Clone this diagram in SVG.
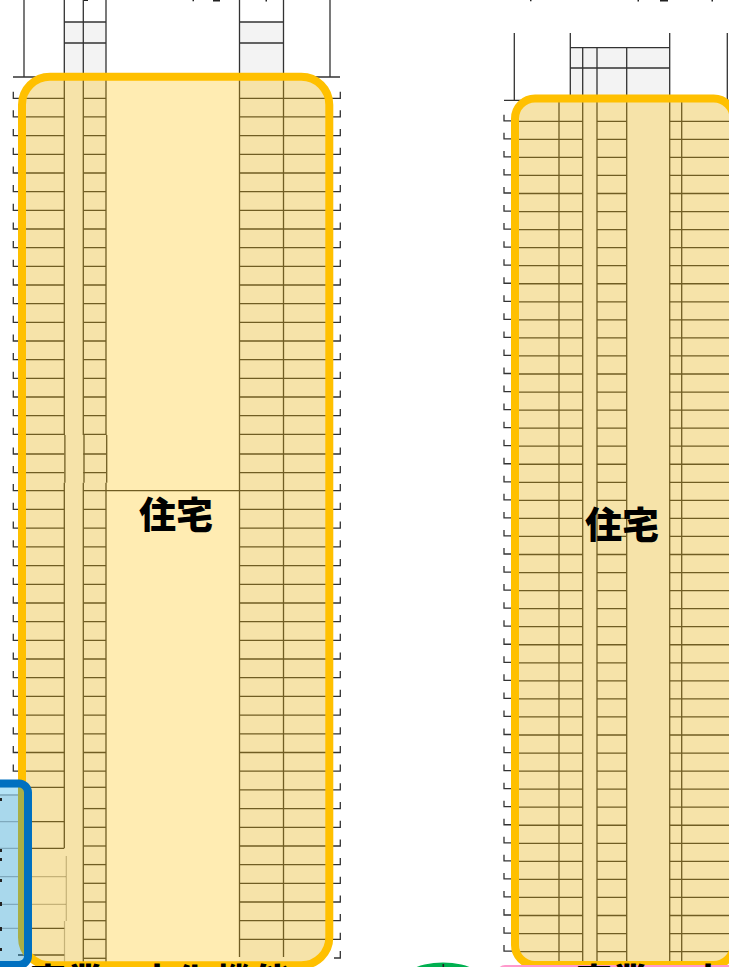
<svg xmlns="http://www.w3.org/2000/svg" xmlns:xlink="http://www.w3.org/1999/xlink" width="729" height="967" viewBox="0 0 729 967">
<style>
.ln{fill:none;stroke:#333;stroke-width:1.3}
.fa{fill:none;stroke:#444;stroke-width:1.2;opacity:.4}
.gr{fill:#f3f3f3}
.yb{fill:#ffc000;fill-opacity:.3;stroke:#ffc000;stroke-width:8}
.lb{font-family:"Noto Sans CJK JP","Noto Sans CJK SC",sans-serif;font-weight:900;font-size:37px;fill:#000}
.lc{font-family:"Noto Sans CJK JP","Noto Sans CJK SC",sans-serif;font-weight:900;font-size:36px;fill:#000}
.mk{fill:#222}
</style>
<defs>
<filter id="soft" filterUnits="userSpaceOnUse" x="-20" y="-20" width="769" height="1007" color-interpolation-filters="sRGB"><feGaussianBlur stdDeviation=".45"/></filter>
<clipPath id="cl"><rect x="22" y="76.7" width="307.3" height="888.6" rx="28"/></clipPath>
<clipPath id="cr"><rect x="515" y="98.5" width="218.7" height="866.5" rx="20"/></clipPath>
<path id="lrow" class="ln" d="M18 0H64.3M83.3 0H106M239.5 0H334M13.3-6.6V0H18M340.3-6.6V0H334"/>
<path id="lright" class="ln" d="M239.5 0H334M340.3-6.6V0H334"/>
<path id="lmid" class="ln" d="M83.3 0H106"/>
<path id="lleft" class="ln" d="M18 0H64.3"/>
<path id="rrow" class="ln" d="M512 0H582.7M597 0H626.7M669.7 0H729M504-6.5V-.5H512"/>
</defs>
<rect width="729" height="967" fill="#fff"/>
<g id="tower-left" filter="url(#soft)">
<rect class="gr" x="64.3" y="22" width="41.7" height="55"/>
<rect class="gr" x="239.5" y="22" width="44" height="55"/>
<g clip-path="url(#cl)"><rect class="gr" x="18" y="72" width="88" height="895"/><rect class="gr" x="239.5" y="72" width="94" height="895"/></g>
<path class="ln" d="M24 0V77M330 0V77M64.3 0V435M64.3 482.7V848M83.3 0V435M83.3 482.7V962M106 0V435M106 482.7V962M239.5 0V957M283.5 0V957M13 77H340M64.3 22H106M64.3 43H106M239.5 22H283.5M239.5 43H283.5M106 490.7H239.5"/>
<path class="ln" d="M64.9 435V482.7M84 435V482.7M106.7 435V482.7"/>
<path class="fa" d="M66.3 856V921M64.5 921V962"/>
<use xlink:href="#lrow" y="98.3"/><use xlink:href="#lrow" y="116.97"/><use xlink:href="#lrow" y="135.64"/><use xlink:href="#lrow" y="154.31"/><use xlink:href="#lrow" y="172.98"/><use xlink:href="#lrow" y="191.65"/><use xlink:href="#lrow" y="210.32"/><use xlink:href="#lrow" y="228.99"/><use xlink:href="#lrow" y="247.66"/><use xlink:href="#lrow" y="266.33"/><use xlink:href="#lrow" y="285"/><use xlink:href="#lrow" y="303.67"/><use xlink:href="#lrow" y="322.34"/><use xlink:href="#lrow" y="341"/><use xlink:href="#lrow" y="359.7"/><use xlink:href="#lrow" y="378.4"/><use xlink:href="#lrow" y="397"/><use xlink:href="#lrow" y="415.7"/><use xlink:href="#lrow" y="434.4"/><use xlink:href="#lrow" y="454"/><use xlink:href="#lrow" y="472.7"/><use xlink:href="#lrow" y="490.7"/><use xlink:href="#lrow" y="509.3"/><use xlink:href="#lrow" y="528.2"/><use xlink:href="#lrow" y="546.9"/><use xlink:href="#lrow" y="565.6"/><use xlink:href="#lrow" y="584.3"/><use xlink:href="#lrow" y="603"/><use xlink:href="#lrow" y="621.7"/><use xlink:href="#lrow" y="640.3"/><use xlink:href="#lrow" y="659"/><use xlink:href="#lrow" y="677.7"/><use xlink:href="#lrow" y="696.4"/><use xlink:href="#lrow" y="715.1"/><use xlink:href="#lrow" y="733.8"/><use xlink:href="#lrow" y="752.5"/><use xlink:href="#lrow" y="771.2"/>
<use xlink:href="#lright" y="789.9"/><use xlink:href="#lright" y="808.6"/><use xlink:href="#lright" y="827.3"/><use xlink:href="#lright" y="846"/><use xlink:href="#lright" y="864.6"/><use xlink:href="#lright" y="883.3"/><use xlink:href="#lright" y="902"/><use xlink:href="#lright" y="920.7"/><use xlink:href="#lright" y="939.4"/><path class="ln" d="M340.3 951V958H334"/>
<use xlink:href="#lmid" y="787.3"/><use xlink:href="#lmid" y="808.6"/><use xlink:href="#lmid" y="827.3"/><use xlink:href="#lmid" y="846"/><use xlink:href="#lmid" y="864.6"/><use xlink:href="#lmid" y="883.3"/><use xlink:href="#lmid" y="902"/><use xlink:href="#lmid" y="920.7"/><use xlink:href="#lmid" y="939.4"/><use xlink:href="#lmid" y="958.3"/>
<use xlink:href="#lleft" y="787.3"/><use xlink:href="#lleft" y="821.7"/><use xlink:href="#lleft" y="848.3"/><use xlink:href="#lleft" y="928.3"/><use xlink:href="#lleft" y="955"/>
<path class="fa" d="M18 876.7H66M18 904.3H66"/>
<rect class="yb" x="22" y="76.7" width="307.3" height="888.6" rx="28"/>
</g>
<g id="tower-right" filter="url(#soft)">
<rect class="gr" x="570.3" y="47.7" width="99.4" height="52"/>
<rect class="gr" x="515" y="98.5" width="218.7" height="866.5" clip-path="url(#cr)"/>
<path class="ln" d="M514.3 33V100M570.3 33V100M669.7 33V967M727.3 33V100M582.7 47.7V967M597 47.7V967M626.7 47.7V967M559 100V967M681.7 100V967M570.3 47.7H669.7M570.3 68H669.7M504 100.3H729"/>
<use xlink:href="#rrow" y="121.3"/><use xlink:href="#rrow" y="139.35"/><use xlink:href="#rrow" y="157.4"/><use xlink:href="#rrow" y="175.45"/><use xlink:href="#rrow" y="193.5"/><use xlink:href="#rrow" y="211.55"/><use xlink:href="#rrow" y="229.6"/><use xlink:href="#rrow" y="247.65"/><use xlink:href="#rrow" y="265.7"/><use xlink:href="#rrow" y="283.75"/><use xlink:href="#rrow" y="301.8"/><use xlink:href="#rrow" y="319.85"/><use xlink:href="#rrow" y="337.9"/><use xlink:href="#rrow" y="355.95"/><use xlink:href="#rrow" y="374"/><use xlink:href="#rrow" y="392.05"/><use xlink:href="#rrow" y="410.1"/><use xlink:href="#rrow" y="428.15"/><use xlink:href="#rrow" y="446.2"/><use xlink:href="#rrow" y="464.25"/><use xlink:href="#rrow" y="482.3"/><use xlink:href="#rrow" y="500.35"/><use xlink:href="#rrow" y="518.4"/><use xlink:href="#rrow" y="536.45"/><use xlink:href="#rrow" y="554.5"/><use xlink:href="#rrow" y="572.55"/><use xlink:href="#rrow" y="590.6"/><use xlink:href="#rrow" y="608.65"/><use xlink:href="#rrow" y="626.7"/><use xlink:href="#rrow" y="644.75"/><use xlink:href="#rrow" y="662.8"/><use xlink:href="#rrow" y="680.85"/><use xlink:href="#rrow" y="698.9"/><use xlink:href="#rrow" y="716.95"/><use xlink:href="#rrow" y="735"/><use xlink:href="#rrow" y="753.05"/><use xlink:href="#rrow" y="771.1"/><use xlink:href="#rrow" y="789.15"/><use xlink:href="#rrow" y="807.2"/><use xlink:href="#rrow" y="825.25"/><use xlink:href="#rrow" y="843.3"/><use xlink:href="#rrow" y="861.35"/><use xlink:href="#rrow" y="879.4"/><use xlink:href="#rrow" y="897.45"/><use xlink:href="#rrow" y="915.5"/><use xlink:href="#rrow" y="933.55"/><use xlink:href="#rrow" y="951.6"/>
<rect class="yb" x="515" y="98.5" width="218.7" height="866.5" rx="20"/>
</g>
<g id="box-blue" filter="url(#soft)">
<rect x="-20" y="783.5" width="48" height="181.5" rx="9" fill="#0a8fc9" fill-opacity=".35"/>
<path fill="none" stroke="#7fa9bd" stroke-width="1.3" d="M0 795H18M0 821.7H18M0 848.3H18M0 876.7H18M0 904.3H18M0 928.3H18"/>
<rect x="0" y="788" width="18" height="6" fill="#b5e4f7"/>
<path class="mk" d="M0 798h2v3H0zM0 849h2v3H0zM0 858h2v3H0zM0 879h2v3H0zM0 902h2v4H0zM0 927h2v4H0zM0 948h2v3H0z"/>
<rect x="-20" y="783.5" width="48" height="181.5" rx="9" fill="none" stroke="#0070c0" stroke-width="8"/>
</g>
<g id="shapes-bottom">
<ellipse cx="443" cy="990" rx="48" ry="27.5" fill="#00b050"/>
<rect x="442.5" y="964" width="1.6" height="3" fill="#222"/>
<rect x="497" y="965" width="260" height="40" rx="8" fill="#ff99cc"/>
</g>
<g id="labels">
<text class="lb" x="176" y="529" text-anchor="middle">住宅</text>
<text class="lb" x="622" y="539" text-anchor="middle">住宅</text>
<text class="lc" x="30 67 104 139 175 216 255" y="995">商業・文化機能</text>
<text class="lc" x="576 612 650 690 726 762 798" y="995">商業・文化機能</text>
</g>
<g id="marks-top">
<path class="mk" d="M84 0h4v1h-4zM192.5 0h1.5v1.2h-1.5zM213 0h7v1.6h-7zM265.5 0h1.5v1.4h-1.5zM530 0h1.5v1.2h-1.5zM637.5 0h1.5v1.4h-1.5zM660 0h8v1.6h-8zM711.5 0h1.5v1.4h-1.5z"/>
</g>
</svg>
